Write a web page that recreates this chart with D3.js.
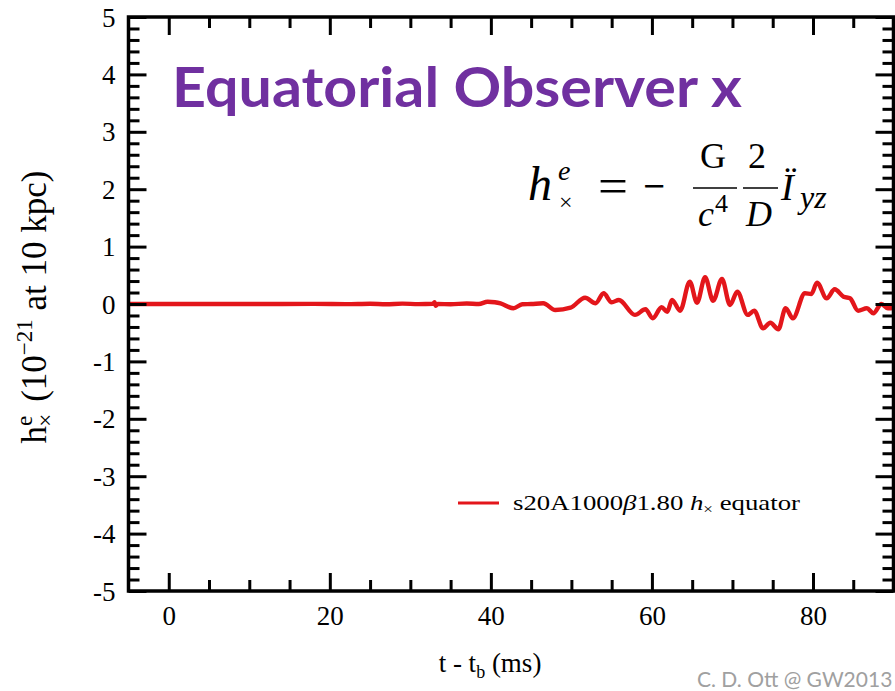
<!DOCTYPE html>
<html>
<head>
<meta charset="utf-8">
<script src="https://cdn.jsdelivr.net/npm/d3@7"></script>
<style>
  html, body { margin: 0; padding: 0; background: #fff; }
  svg { display: block; }
  .cm { font-family: "Liberation Serif", "Times New Roman", serif; fill: #000; }
</style>
</head>
<body>
<svg id="chart" width="895" height="691"></svg>
<script>
// Cross-polarised strain seen by an equatorial observer (units of 1e-21 at 10 kpc)
const timeMs = [-5, 0, 10, 18, 22, 25, 27, 29, 31, 32.8, 33.0, 33.15, 33.4, 35, 37, 38.5, 39.6, 40.5,
  41.2, 42.8, 43.9, 45, 46.5, 48.0, 49.9, 51.7, 53.0, 54.0, 55.0, 55.9, 57.9, 59.2, 60.1, 61.2,
  61.9, 62.5, 63.5, 64.7, 65.6, 66.6, 67.6, 68.7, 69.7, 70.6, 71.9, 72.7, 73.8, 74.7, 75.7, 76.6,
  77.5, 79.0, 79.8, 80.5, 81.7, 82.7, 83.8, 84.6, 85.6, 86.7, 87.5, 88.5, 89.3, 90.5];
const strain = [0, 0, 0, 0.002, -0.003, 0.005, -0.004, 0.006, -0.002, 0.005, 0.03, -0.03, 0.0, -0.005,
  0.01, 0.0, 0.04, 0.03, 0.01, -0.075, -0.005, 0.0, 0.012, -0.105, -0.064, 0.11, 0.012, 0.186, 0.03,
  0.07, -0.19, -0.092, -0.25, -0.057, -0.134, 0.07, -0.117, 0.39, 0.023, 0.465, 0.057, 0.436, -0.017,
  0.214, -0.19, -0.117, -0.423, -0.326, -0.44, -0.075, -0.25, 0.186, 0.174, 0.371, 0.1, 0.256, 0.127,
  0.1, -0.117, -0.075, -0.162, 0.0, -0.075, -0.05];

const xTicks = [0, 20, 40, 60, 80];
const yTicks = [-5, -4, -3, -2, -1, 0, 1, 2, 3, 4, 5];
const xDomain = [-5, 90];
const yDomain = [-5, 5];

const svg = d3.select("#chart");
const L = 128.5, R = 893.5, T = 17, B = 591;

const x = d3.scaleLinear().domain(xDomain).range([L, R]);
const y = d3.scaleLinear().domain(yDomain).range([B, T]);

const xMinor = d3.range(5, 90, 5).filter(v => !xTicks.includes(v));
const yMinor = d3.range(-48, 49, 2).map(v => v / 10).filter(v => !Number.isInteger(v));
const plainInt = d => String(d);   // hyphen-minus, as typeset on the axis

// waveform, clipped to the frame
svg.append("clipPath").attr("id", "plotclip")
  .append("rect").attr("x", L).attr("y", T).attr("width", R - L + 2).attr("height", B - T);

const pts = timeMs.map((t, i) => [t, strain[i]]);
const line = d3.line().x(d => x(d[0])).y(d => y(d[1])).curve(d3.curveMonotoneX);
svg.append("path")
  .attr("clip-path", "url(#plotclip)")
  .attr("d", line(pts))
  .attr("fill", "none")
  .attr("stroke", "#e3161b")
  .attr("stroke-width", 4.4)
  .attr("stroke-linejoin", "round");

// frame with inward ticks on all four sides
function styleAxis(g) {
  g.select(".domain").remove();
  g.selectAll(".tick line").attr("stroke", "#000").attr("stroke-width", 3);
}
const MAJ = 18, MIN = 11;
svg.append("g").attr("transform", `translate(0,${B})`)
  .call(d3.axisBottom(x).tickValues(xTicks).tickSize(-MAJ).tickFormat(plainInt))
  .call(styleAxis)
  .call(g => g.selectAll(".tick text").attr("class", "cm").attr("font-size", 27)
    .attr("y", 0).attr("dy", 34).attr("font-family", null));
svg.append("g").attr("transform", `translate(0,${B})`)
  .call(d3.axisBottom(x).tickValues(xMinor).tickSize(-MIN).tickFormat(""))
  .call(styleAxis);
svg.append("g").attr("transform", `translate(0,${T})`)
  .call(d3.axisTop(x).tickValues(xTicks).tickSize(-MAJ).tickFormat(""))
  .call(styleAxis);
svg.append("g").attr("transform", `translate(0,${T})`)
  .call(d3.axisTop(x).tickValues(xMinor).tickSize(-MIN).tickFormat(""))
  .call(styleAxis);

svg.append("g").attr("transform", `translate(${L},0)`)
  .call(d3.axisLeft(y).tickValues(yTicks).tickSize(-MAJ).tickFormat(plainInt))
  .call(styleAxis)
  .call(g => g.selectAll(".tick text").attr("class", "cm").attr("font-size", 27)
    .attr("x", -13).attr("dy", "0.34em").attr("font-family", null));
svg.append("g").attr("transform", `translate(${L},0)`)
  .call(d3.axisLeft(y).tickValues(yMinor).tickSize(-MIN).tickFormat(""))
  .call(styleAxis);
svg.append("g").attr("transform", `translate(${R},0)`)
  .call(d3.axisRight(y).tickValues(yTicks).tickSize(-MAJ).tickFormat(""))
  .call(styleAxis);
svg.append("g").attr("transform", `translate(${R},0)`)
  .call(d3.axisRight(y).tickValues(yMinor).tickSize(-MIN).tickFormat(""))
  .call(styleAxis);

svg.append("rect")
  .attr("x", L).attr("y", T).attr("width", R - L).attr("height", B - T)
  .attr("fill", "none").attr("stroke", "#000").attr("stroke-width", 3.5);

// axis titles
const xl = svg.append("text").attr("class", "cm").attr("font-size", 27)
  .attr("x", 490).attr("y", 672).attr("text-anchor", "middle");
xl.append("tspan").text("t - t");
xl.append("tspan").attr("font-size", 18).attr("dy", 6).text("b");
xl.append("tspan").attr("dy", -6).text(" (ms)");

const yl = svg.append("text").attr("class", "cm").attr("font-size", 35)
  .attr("transform", "translate(46,307) rotate(-90)").attr("text-anchor", "middle");
yl.append("tspan").text("h");
yl.append("tspan").attr("font-size", 23).attr("dy", -14).text("e");
yl.append("tspan").attr("font-size", 23).attr("dx", -11).attr("dy", 21).text("×");
yl.append("tspan").attr("dy", -7).attr("dx", 12).text("(10");
yl.append("tspan").attr("font-size", 23).attr("dy", -14).text("−21");
yl.append("tspan").attr("dy", 14).text(" at 10 kpc)");

// legend
svg.append("line").attr("x1", 458).attr("x2", 499).attr("y1", 503).attr("y2", 503)
  .attr("stroke", "#e3161b").attr("stroke-width", 3);
const lg = svg.append("text").attr("class", "cm").attr("font-size", 22).attr("x", 513).attr("y", 510)
  .attr("textLength", 287).attr("lengthAdjust", "spacingAndGlyphs");
lg.append("tspan").text("s20A1000");
lg.append("tspan").attr("font-style", "italic").text("β");
lg.append("tspan").text("1.80 ");
lg.append("tspan").attr("font-style", "italic").text("h");
lg.append("tspan").attr("font-size", 14).attr("dy", 4).text("×");
lg.append("tspan").attr("dy", -4).text(" equator");

// title
svg.append("text")
  .attr("x", 172).attr("y", 107)
  .attr("font-family", "Lato, 'Open Sans', sans-serif").attr("font-weight", "bold")
  .attr("font-size", 55).attr("fill", "#7030a0")
  .attr("textLength", 570).attr("lengthAdjust", "spacingAndGlyphs")
  .text("Equatorial Observer x");

// quadrupole formula
const f = svg.append("g").attr("class", "cm");
function ftxt(tx, ty, size, s, italic = true) {
  return f.append("text").attr("x", tx).attr("y", ty).attr("font-size", size)
    .attr("font-style", italic ? "italic" : "normal").text(s);
}
ftxt(528, 200, 48, "h");
ftxt(558, 180, 28, "e");
ftxt(559, 210, 24, "×", false);
ftxt(598, 203, 50, "=", false).attr("textLength", 30).attr("lengthAdjust", "spacingAndGlyphs");
ftxt(643, 203, 50, "−", false).attr("textLength", 22).attr("lengthAdjust", "spacingAndGlyphs");
ftxt(700, 168, 36, "G", false);
f.append("line").attr("x1", 693).attr("x2", 737).attr("y1", 188).attr("y2", 188).attr("stroke", "#000").attr("stroke-width", 1.6);
ftxt(698, 226, 36, "c");
ftxt(715, 212, 26, "4", false);
ftxt(748, 168, 36, "2", false);
f.append("line").attr("x1", 743).attr("x2", 778).attr("y1", 188).attr("y2", 188).attr("stroke", "#000").attr("stroke-width", 1.6);
ftxt(746, 226, 36, "D");
ftxt(781, 200, 38, "Ï");
ftxt(800, 208, 32, "yz");

// credit
svg.append("text").attr("x", 697).attr("y", 687)
  .attr("font-family", "Lato, 'Open Sans', sans-serif").attr("font-size", 21)
  .attr("fill", "#a0a0a0").text("C. D. Ott @ GW2013");
</script>
</body>
</html>
